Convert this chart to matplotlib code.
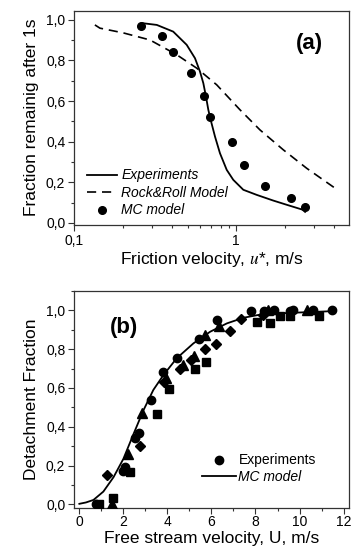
import matplotlib
matplotlib.use("Agg")
import matplotlib.pyplot as plt
from matplotlib.ticker import FixedLocator, FixedFormatter, MultipleLocator

plt.rcParams['font.family'] = ['Liberation Sans', 'DejaVu Sans']
plt.rcParams['mathtext.fontset'] = 'stix'

# ---------------- Panel (a) data ----------------
mc_u = [0.257, 0.346, 0.405, 0.523, 0.635, 0.688, 0.937, 1.12, 1.50, 2.17, 2.66]
mc_f = [0.972, 0.918, 0.844, 0.740, 0.626, 0.521, 0.400, 0.286, 0.184, 0.122, 0.077]

exp_u = [0.261, 0.323, 0.408, 0.494, 0.556, 0.597, 0.626, 0.650, 0.672, 0.695,
         0.739, 0.793, 0.873, 0.958, 1.105, 1.336, 1.69, 2.05, 2.59, 2.66]
exp_f = [0.984, 0.975, 0.942, 0.877, 0.811, 0.745, 0.688, 0.622, 0.557, 0.507,
         0.425, 0.343, 0.261, 0.212, 0.163, 0.138, 0.110, 0.089, 0.064, 0.054]

rr_u = [0.134, 0.144, 0.20, 0.293, 0.429, 0.570, 0.757, 1.054, 1.40, 1.95, 2.72, 4.07]
rr_f = [0.975, 0.959, 0.936, 0.901, 0.828, 0.762, 0.680, 0.557, 0.458, 0.360, 0.269, 0.171]

a_yticks = [0.0, 0.2, 0.4, 0.6, 0.8, 1.0]
a_yticklabels = ['0,0', '0,2', '0,4', '0,6', '0,8', '1,0']
a_xticks = [0.1, 1]
a_xticklabels = ['0,1', '1']
a_xminor = [0.2, 0.3, 0.4, 0.5, 0.6, 0.7, 0.8, 0.9, 2, 3, 4]

# ---------------- Panel (b) data ----------------
circ_U = [0.76, 2.0, 2.08, 2.53, 2.71, 3.24, 3.82, 4.42, 5.45, 6.24, 7.78, 8.4, 8.85, 9.55, 9.7, 10.62, 11.47]
circ_D = [0.00, 0.17, 0.193, 0.34, 0.366, 0.54, 0.684, 0.756, 0.854, 0.95, 0.998, 0.998, 1.0, 0.998, 1.0, 1.0, 1.0]

tri_U = [1.50, 2.2, 2.85, 3.94, 4.7, 5.2, 5.7, 6.35, 8.55, 10.35]
tri_D = [0.0, 0.262, 0.473, 0.65, 0.72, 0.765, 0.872, 0.918, 1.0, 1.0]

sq_U = [0.9, 1.52, 2.3, 3.52, 4.05, 5.24, 5.74, 8.06, 8.65, 9.12, 9.58, 10.9]
sq_D = [0.0, 0.032, 0.167, 0.467, 0.594, 0.70, 0.734, 0.938, 0.937, 0.97, 0.97, 0.97]

dia_U = [1.26, 2.76, 3.84, 4.56, 5.07, 5.72, 6.19, 6.84, 7.34, 8.32]
dia_D = [0.153, 0.303, 0.631, 0.70, 0.742, 0.80, 0.826, 0.896, 0.955, 0.975]

mcb_U = [0.0, 0.3, 0.64, 1.09, 1.55, 2.0, 2.45, 2.91, 3.36, 3.82, 4.42, 5.18, 5.94,
         6.7, 7.45, 8.2, 9.0, 9.73, 10.6, 11.47]
mcb_D = [0.003, 0.01, 0.023, 0.066, 0.14, 0.235, 0.36, 0.485, 0.59, 0.667, 0.753, 0.83,
         0.89, 0.933, 0.962, 0.978, 0.984, 0.988, 0.992, 0.996]

b_yticks = [0.0, 0.2, 0.4, 0.6, 0.8, 1.0]
b_yticklabels = ['0,0', '0,2', '0,4', '0,6', '0,8', '1,0']
b_xticks = [0, 2, 4, 6, 8, 10, 12]
b_xticklabels = ['0', '2', '4', '6', '8', '10', '12']

# ---------------- Figure ----------------
W, H = 351, 552
fig = plt.figure(figsize=(W / 100, H / 100), dpi=100)

def box(l, t, r, b):
    return [l / W, 1 - b / H, (r - l) / W, (b - t) / H]

spine_col = '#333333'
tick_fs = 10
label_fs = 12.5

def style(ax):
    for s in ax.spines.values():
        s.set_color(spine_col)
        s.set_linewidth(0.9)
    ax.tick_params(which='major', direction='out', length=4.5, width=0.8,
                   labelsize=tick_fs, color=spine_col, pad=2, top=False, right=False)
    ax.tick_params(which='minor', direction='out', length=2.5, width=0.8,
                   color=spine_col, top=False, right=False)

# Panel (a)
axa = fig.add_axes(box(74.3, 10.5, 349.5, 224.5))
axa.set_xscale('log')
axa.plot(exp_u, exp_f, '-', color='black', lw=1.3, label='Experiments')
axa.plot(rr_u, rr_f, '--', color='black', lw=1.2, dashes=(5.5, 3.5), label='Rock&Roll Model')
axa.plot(mc_u, mc_f, 'o', color='black', ms=5.5, ls='none', label='MC model')
axa.set_xlim(0.1, 5.0)
axa.set_ylim(-0.008, 1.046)
axa.xaxis.set_major_locator(FixedLocator(a_xticks))
axa.xaxis.set_major_formatter(FixedFormatter(a_xticklabels))
axa.xaxis.set_minor_locator(FixedLocator(a_xminor))
axa.xaxis.set_minor_formatter(FixedFormatter([''] * len(a_xminor)))
axa.yaxis.set_major_locator(FixedLocator(a_yticks))
axa.yaxis.set_major_formatter(FixedFormatter(a_yticklabels))
axa.yaxis.set_minor_locator(MultipleLocator(0.1))
style(axa)
axa.set_xlabel('Friction velocity, $u$*, m/s', fontsize=label_fs, labelpad=2)
axa.set_ylabel('Fraction remainig after 1s', fontsize=label_fs, labelpad=5)
axa.text(0.855, 0.845, '(a)', transform=axa.transAxes, fontsize=16,
         fontweight='bold', ha='center', va='center')
lega = axa.legend(loc='upper left', bbox_to_anchor=(0.045, 0.262), frameon=False,
                  fontsize=10, handlelength=2.2, handletextpad=0.3,
                  labelspacing=0.25, borderpad=0, borderaxespad=0)
for t in lega.get_texts():
    t.set_style('italic')

# Panel (b)
axb = fig.add_axes(box(74.3, 291, 349.5, 507.5))
axb.plot(mcb_U, mcb_D, '-', color='black', lw=1.3, label='MC model', zorder=2)
axb.plot(circ_U, circ_D, 'o', color='black', ms=6, ls='none', label='Experiments', zorder=3)
axb.plot(tri_U, tri_D, '^', color='black', ms=6.5, ls='none', zorder=3)
axb.plot(sq_U, sq_D, 's', color='black', ms=5.5, ls='none', zorder=3)
axb.plot(dia_U, dia_D, 'D', color='black', ms=5, ls='none', zorder=3)
axb.set_xlim(-0.23, 12.27)
axb.set_ylim(-0.016, 1.1)
axb.xaxis.set_major_locator(FixedLocator(b_xticks))
axb.xaxis.set_major_formatter(FixedFormatter(b_xticklabels))
axb.xaxis.set_minor_locator(MultipleLocator(1))
axb.yaxis.set_major_locator(FixedLocator(b_yticks))
axb.yaxis.set_major_formatter(FixedFormatter(b_yticklabels))
axb.yaxis.set_minor_locator(MultipleLocator(0.1))
style(axb)
axb.tick_params(axis='x', which='major', pad=1)
axb.set_xlabel('Free stream velocity, U, m/s', fontsize=label_fs, labelpad=1)
axb.set_ylabel('Detachment Fraction', fontsize=label_fs, labelpad=5)
axb.text(0.18, 0.83, '(b)', transform=axb.transAxes, fontsize=16,
         fontweight='bold', ha='center', va='center')
h, l = axb.get_legend_handles_labels()
legb = axb.legend([h[1], h[0]], [l[1], l[0]], loc='upper left',
                  bbox_to_anchor=(0.465, 0.25), frameon=False, fontsize=10,
                  handlelength=2.4, handletextpad=0.2, labelspacing=0.2,
                  borderpad=0, borderaxespad=0)
legb.get_texts()[1].set_style('italic')

fig.savefig('out.png', dpi=100)
